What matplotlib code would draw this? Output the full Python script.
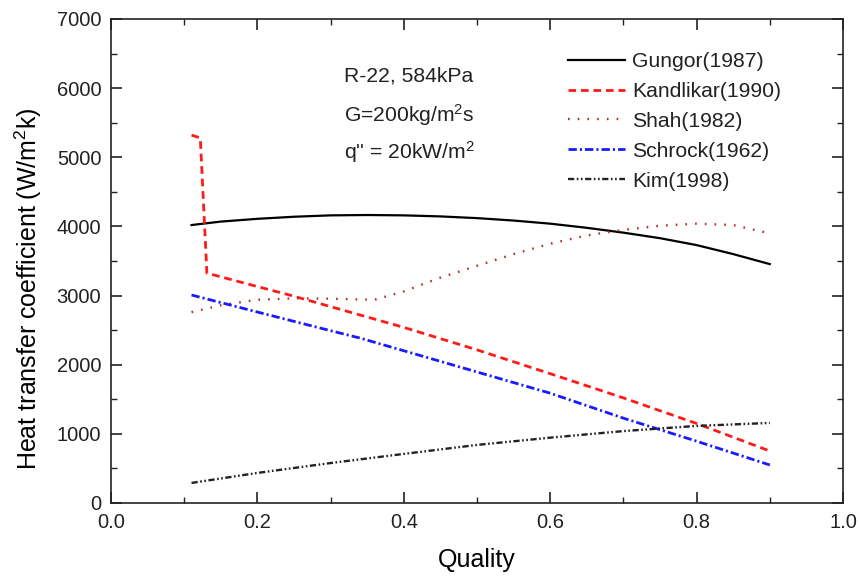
import matplotlib
matplotlib.use("Agg")
import matplotlib.pyplot as plt
from matplotlib.ticker import MultipleLocator

plt.rcParams['font.family'] = ['Liberation Sans', 'DejaVu Sans']
plt.rcParams['mathtext.fontset'] = 'custom'
plt.rcParams['mathtext.rm'] = 'Liberation Sans'
plt.rcParams['mathtext.it'] = 'Liberation Sans:italic'
plt.rcParams['mathtext.bf'] = 'Liberation Sans:bold'
plt.rcParams['lines.scale_dashes'] = False

# ---- data ----
gungor_x = [0.11, 0.15, 0.2, 0.25, 0.3, 0.35, 0.4, 0.45, 0.5, 0.55, 0.6, 0.65, 0.7, 0.75, 0.8, 0.85, 0.9]
gungor_y = [4020, 4070, 4110, 4140, 4160, 4165, 4160, 4145, 4120, 4085, 4040, 3980, 3910, 3830, 3730, 3600, 3455]

kand_x = [0.11, 0.122, 0.131, 0.2, 0.245, 0.3, 0.4, 0.5, 0.6, 0.7, 0.8, 0.9]
kand_y = [5320, 5280, 3325, 3130, 3005, 2840, 2540, 2215, 1870, 1520, 1150, 752]

shah_x = [0.11, 0.15, 0.2, 0.25, 0.3, 0.36, 0.4, 0.45, 0.5, 0.55, 0.6, 0.65, 0.7, 0.75, 0.8, 0.85, 0.9]
shah_y = [2760, 2860, 2940, 2960, 2955, 2940, 3060, 3260, 3430, 3600, 3750, 3870, 3950, 4010, 4040, 4020, 3900]

schrock_x = [0.11, 0.2, 0.3, 0.34, 0.4, 0.5, 0.6, 0.7, 0.8, 0.9]
schrock_y = [3008, 2762, 2492, 2386, 2202, 1895, 1588, 1227, 894, 550]

kim_x = [0.11, 0.2, 0.3, 0.4, 0.5, 0.6, 0.7, 0.8, 0.9]
kim_y = [290, 435, 578, 710, 840, 945, 1040, 1115, 1158]

labels = ["Gungor(1987)", "Kandlikar(1990)", "Shah(1982)", "Schrock(1962)", "Kim(1998)"]
x_label = "Quality"
y_label = "Heat transfer coefficient (W/m$^{2}$k)"
notes = ["R-22, 584kPa", "G=200kg/m$^{2}$s", "q'' = 20kW/m$^{2}$"]

# ---- figure ----
fig = plt.figure(figsize=(8.6, 5.78), dpi=100)
ax = fig.add_axes([111/860, 1 - 503/578, (843-111)/860, (503-19)/578])

ax.plot(gungor_x, gungor_y, color='black', lw=1.6, label=labels[0])
ax.plot(kand_x, kand_y, color='#ff1a1a', lw=2.0, dashes=(5.5, 3.5), label=labels[1])
ax.plot(shah_x, shah_y, color='#b03030', lw=1.7, dashes=(1.2, 5.8), label=labels[2])
ax.plot(schrock_x, schrock_y, color='#1a1aff', lw=2.0, dashes=(6, 2.2, 1.5, 2.2), label=labels[3])
ax.plot(kim_x, kim_y, color='#222222', lw=1.7, dashes=(4.5, 1.8, 1.2, 1.8, 1.2, 1.8), label=labels[4])

ax.set_xlim(0.0, 1.0)
ax.set_ylim(0, 7000)
ax.xaxis.set_major_locator(MultipleLocator(0.2))
ax.xaxis.set_minor_locator(MultipleLocator(0.1))
ax.yaxis.set_major_locator(MultipleLocator(1000))
ax.yaxis.set_minor_locator(MultipleLocator(500))
ax.set_xticks([0.0, 0.2, 0.4, 0.6, 0.8, 1.0])
ax.set_xticklabels(["0.0", "0.2", "0.4", "0.6", "0.8", "1.0"])

ax.tick_params(which='both', direction='in', top=True, right=True, labelsize=14.5, colors='#222222')
ax.tick_params(which='major', length=8, width=1.2, pad=7)
ax.tick_params(which='minor', length=4.5, width=1.0)
for sp in ax.spines.values():
    sp.set_linewidth(1.2)
    sp.set_color('#222222')

ax.set_xlabel(x_label, fontsize=18)
ax.set_ylabel(y_label, fontsize=18)
ax.xaxis.set_label_coords(0.5, -(560 - 503) / 484, transform=ax.transAxes)
ax.yaxis.set_label_coords((28 - 111) / 732, 1 - (289 - 19) / 484, transform=ax.transAxes)
ax.xaxis.label.set_va('center')
ax.yaxis.label.set_va('center')

ax.text(0.318, 6176, notes[0], fontsize=15.2, va='center', ha='left', color='#222222')
ax.text(0.318, 5612, notes[1], fontsize=15.2, va='center', ha='left', color='#222222')
ax.text(0.318, 5077, notes[2], fontsize=15.2, va='center', ha='left', color='#222222')

leg = ax.legend(loc='upper left', bbox_to_anchor=(0.624, 0.932), frameon=False,
                fontsize=15.2, handlelength=2.7, handletextpad=0.35,
                labelspacing=0.52, borderaxespad=0, borderpad=0)
for t in leg.get_texts():
    t.set_color('#222222')

fig.savefig("out.png", dpi=100)
